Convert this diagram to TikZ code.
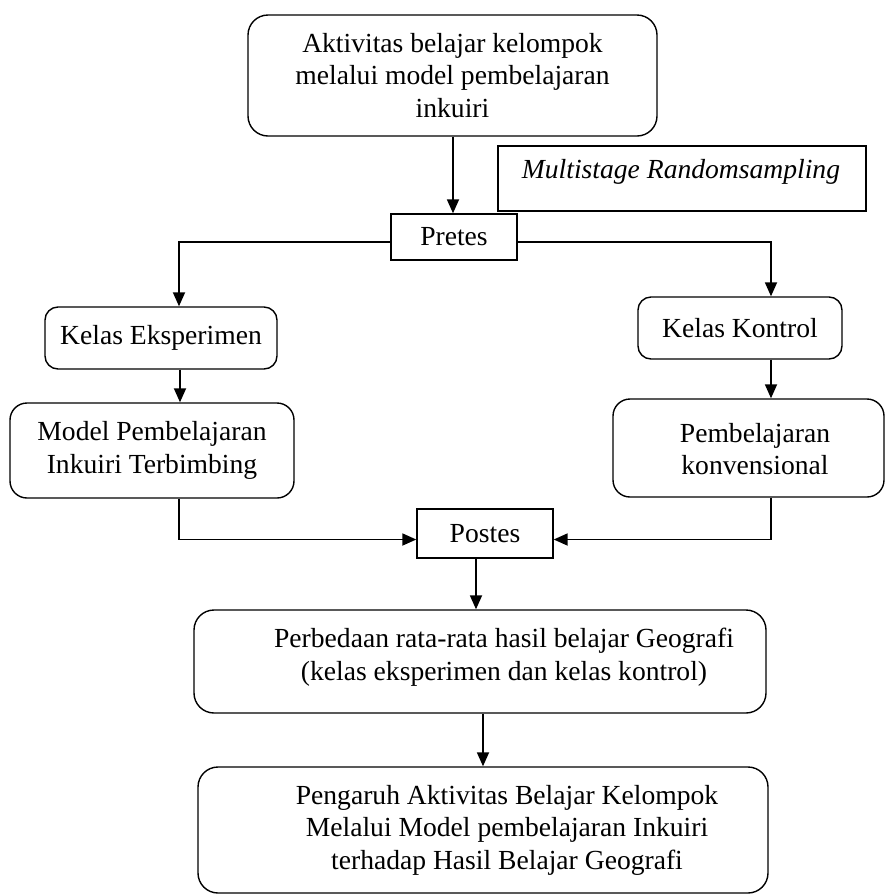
\documentclass[tikz,border=0pt]{standalone}
\usepackage{fontspec}
\setmainfont{Liberation Serif}
\usetikzlibrary{arrows.meta}
\begin{document}
\begin{tikzpicture}[x=1pt,y=-1pt,
  every node/.style={font=\fontsize{27.6}{32.5}\selectfont, align=center, inner sep=0pt},
  rbox/.style={draw, line width=1.4pt, rounded corners=#1},
  rbox/.default=15pt,
  sbox/.style={draw, line width=1.4pt},
  txt/.style={},
  arr/.style={line width=1.8pt, -{Triangle[length=14pt,width=12pt]}},
  plain/.style={line width=1.8pt}]
\useasboundingbox[fill=white] (0,0) rectangle (886,895);

% boxes
\node[rbox=20pt, minimum width=409pt, minimum height=121pt] (top) at (452.5,75.5)
  {Aktivitas belajar kelompok\\ melalui model pembelajaran\\ inkuiri};
\node[sbox, minimum width=368pt, minimum height=65pt] (multi) at (682,178.5) {};
\node[txt] (multit) at (681,172) {\itshape Multistage Randomsampling};
\node[sbox, minimum width=126pt, minimum height=46pt] (pretes) at (454,237) {Pretes};
\node[rbox=13pt, minimum width=232pt, minimum height=62pt] (ke) at (161,338) {Kelas Eksperimen};
\node[rbox=13pt, minimum width=204pt, minimum height=62pt] (kk) at (740,328) {Kelas Kontrol};
\node[rbox=17pt, minimum width=284pt, minimum height=95pt] (mod) at (152,450.5)
  {Model Pembelajaran\\ Inkuiri Terbimbing};
\node[rbox=17pt, minimum width=271pt, minimum height=98pt] (pk) at (748.5,448) {};
\node[txt] (pkt) at (755,449) {Pembelajaran\\ konvensional};
\node[sbox, minimum width=136pt, minimum height=49pt] (postes) at (485,533.5) {Postes};
\node[rbox=20pt, minimum width=572pt, minimum height=103pt] (pb) at (480,661.5) {};
\node[txt] (pbt) at (504,657) {Perbedaan rata-rata hasil belajar Geografi\\ (kelas eksperimen dan kelas kontrol)};
\node[rbox=20pt, minimum width=570pt, minimum height=126pt] (pg) at (483,830) {};
\node[txt] (pgt) at (507,830) {Pengaruh Aktivitas Belajar Kelompok\\ Melalui Model pembelajaran Inkuiri\\ terhadap Hasil Belajar Geografi};

% connectors
\draw[arr] ([xshift=0.5pt]top.south) -- ([xshift=0.5pt]top.south |- pretes.north);
\draw[arr] ([yshift=-5pt]pretes.west) -| ([xshift=18pt]ke.north);
\draw[arr] ([yshift=-5pt]pretes.east) -| ([xshift=31pt]kk.north);
\draw[arr] ([xshift=19pt]ke.south) -- ([xshift=19pt]ke.south |- mod.north);
\draw[arr] ([xshift=31pt]kk.south) -- ([xshift=31pt]kk.south |- pk.north);
\draw[arr] ([xshift=27pt]mod.south) |- ([yshift=-6pt]postes.west);
\draw[arr] ([xshift=22.5pt]pk.south) |- ([yshift=-6pt]postes.east);
\draw[arr] ([xshift=-9pt]postes.south) -- ([xshift=-9pt]postes.south |- pb.north);
\draw[arr] ([xshift=3pt]pb.south) -- ([xshift=3pt]pb.south |- pg.north);
\end{tikzpicture}
\end{document}
